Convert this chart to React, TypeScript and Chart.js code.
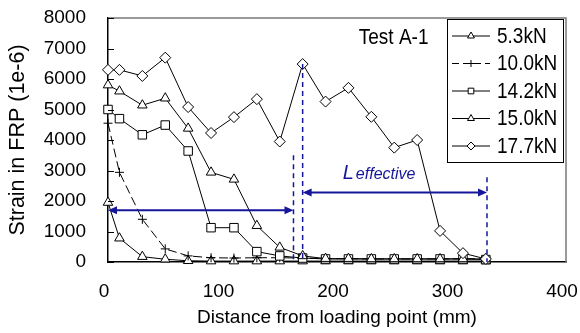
import React, { useEffect, useRef } from 'react';
import { Chart, registerables } from 'chart.js';

Chart.register(...registerables);

// ---- data ----
const distanceMm = [0, 10, 30, 50, 70, 90, 110, 130, 150, 170, 190, 210, 230, 250, 270, 290, 310, 330];
const loadLabels = ['5.3kN', '10.0kN', '14.2kN', '15.0kN', '17.7kN'];
const strain5_3 = [1950, 780, 175, 90, 40, 30, 30, 30, 30, 30, 30, 30, 30, 30, 30, 30, 30, 30];
const strain10_0 = [4550, 2940, 1400, 430, 200, 140, 130, 140, 140, 130, 110, 110, 100, 100, 100, 100, 110, 100];
const strain14_2 = [5000, 4700, 4170, 4490, 3640, 1125, 1125, 340, 200, 130, 100, 100, 100, 100, 100, 100, 100, 80];
const strain15_0 = [5800, 5600, 5140, 5370, 4380, 2940, 2710, 1190, 480, 200, 110, 110, 100, 100, 100, 100, 100, 100];
const strain17_7 = [6300, 6300, 6100, 6700, 5080, 4230, 4750, 5340, 3950, 6490, 5260, 5710, 4760, 3750, 4000, 1020, 290, 100];
const xTickValues = [0, 100, 200, 300, 400];
const yTickValues = [0, 1000, 2000, 3000, 4000, 5000, 6000, 7000, 8000];
const xTitle = 'Distance from loading point (mm)';
const yTitle = 'Strain in FRP (1e-6)';
const chartNote = 'Test A-1';
const noteAt = [219, 7330];
const effLabelMain = 'L';
const effLabelSub = 'effective';
const effLabelAt = [205, 2720];
// [fromX, toX, atStrain]
const arrowSpans = [
  [0, 162, 1700],
  [170, 331, 2280],
];
// [atX, topStrain]
const guideLines = [
  [162, 3500],
  [170, 6490],
  [331, 2780],
];

const FONT = "'Liberation Sans', Arial, sans-serif";
const BLUE = '#16169a';
const STRETCH = 1.13;

const seriesStyles = [
  { pointStyle: 'triangle', radius: 5.5, dash: [] as number[] },
  { pointStyle: 'cross', radius: 4.5, dash: [9, 4] },
  { pointStyle: 'rect', radius: 6, dash: [] as number[] },
  { pointStyle: 'triangle', radius: 5.5, dash: [] as number[] },
  { pointStyle: 'rectRot', radius: 5.5, dash: [] as number[] },
];
const seriesValues = [strain5_3, strain10_0, strain14_2, strain15_0, strain17_7];

function drawMarker(ctx: CanvasRenderingContext2D, style: string, x: number, y: number, r: number) {
  ctx.beginPath();
  if (style === 'triangle') {
    ctx.moveTo(x, y - r);
    ctx.lineTo(x + r * 0.866, y + r * 0.5);
    ctx.lineTo(x - r * 0.866, y + r * 0.5);
    ctx.closePath();
    ctx.fill();
    ctx.stroke();
  } else if (style === 'rect') {
    const s = r * 0.7071;
    ctx.rect(x - s, y - s, 2 * s, 2 * s);
    ctx.fill();
    ctx.stroke();
  } else if (style === 'rectRot') {
    ctx.moveTo(x, y - r);
    ctx.lineTo(x + r, y);
    ctx.lineTo(x, y + r);
    ctx.lineTo(x - r, y);
    ctx.closePath();
    ctx.fill();
    ctx.stroke();
  } else {
    ctx.moveTo(x - r, y);
    ctx.lineTo(x + r, y);
    ctx.moveTo(x, y - r);
    ctx.lineTo(x, y + r);
    ctx.stroke();
  }
}

function stretchedText(ctx: CanvasRenderingContext2D, text: string, x: number, y: number) {
  ctx.save();
  ctx.translate(x, y);
  ctx.scale(1, STRETCH);
  ctx.fillText(text, 0, 0);
  ctx.restore();
}

const decorPlugin = {
  id: 'decor',
  afterDatasetsDraw(chart: any) {
    const { ctx, chartArea: a, scales } = chart;
    const xs = scales.x;
    const ys = scales.y;
    ctx.save();
    // top & right frame
    ctx.strokeStyle = '#7a7a7a';
    ctx.lineWidth = 1.5;
    ctx.beginPath();
    ctx.moveTo(a.left, a.top);
    ctx.lineTo(a.right, a.top);
    ctx.lineTo(a.right, a.bottom);
    ctx.stroke();
    // inner y ticks
    ctx.strokeStyle = '#000';
    ctx.lineWidth = 1;
    yTickValues.forEach((v) => {
      const py = Math.round(ys.getPixelForValue(v)) + 0.5;
      ctx.beginPath();
      ctx.moveTo(a.left, py);
      ctx.lineTo(a.left + 6, py);
      ctx.stroke();
    });
    // guide lines
    ctx.strokeStyle = BLUE;
    ctx.lineWidth = 1.5;
    ctx.setLineDash([5, 4]);
    guideLines.forEach(([gx, gy]) => {
      const px = xs.getPixelForValue(gx);
      ctx.beginPath();
      ctx.moveTo(px, ys.getPixelForValue(gy));
      ctx.lineTo(px, ys.getPixelForValue(0));
      ctx.stroke();
    });
    ctx.setLineDash([]);
    // arrows
    ctx.lineWidth = 2;
    ctx.fillStyle = BLUE;
    const head = (tx: number, ty: number, dir: number) => {
      ctx.beginPath();
      ctx.moveTo(tx, ty);
      ctx.lineTo(tx - dir * 9, ty - 4);
      ctx.lineTo(tx - dir * 9, ty + 4);
      ctx.closePath();
      ctx.fill();
    };
    arrowSpans.forEach(([x0, x1, yv]) => {
      const p0 = xs.getPixelForValue(x0);
      const p1 = xs.getPixelForValue(x1);
      const py = ys.getPixelForValue(yv);
      ctx.beginPath();
      ctx.moveTo(p0 + 6, py);
      ctx.lineTo(p1 - 6, py);
      ctx.stroke();
      head(p0, py, -1);
      head(p1, py, 1);
    });
    // L effective
    const lx = xs.getPixelForValue(effLabelAt[0]);
    const ly = ys.getPixelForValue(effLabelAt[1]);
    ctx.textBaseline = 'alphabetic';
    ctx.textAlign = 'left';
    ctx.font = `italic 20px ${FONT}`;
    ctx.fillText(effLabelMain, lx, ly);
    const lw = ctx.measureText(effLabelMain).width;
    ctx.font = `italic 16px ${FONT}`;
    ctx.fillText(effLabelSub, lx + lw + 2, ly);
    // note
    ctx.fillStyle = '#000';
    ctx.font = `19px ${FONT}`;
    ctx.textBaseline = 'middle';
    stretchedText(ctx, chartNote, xs.getPixelForValue(noteAt[0]), ys.getPixelForValue(noteAt[1]));
    // legend
    const bx = 447, by = 19, bw = 116, bh = 143;
    ctx.fillStyle = '#fff';
    ctx.fillRect(bx, by, bw, bh);
    ctx.strokeStyle = '#000';
    ctx.lineWidth = 1;
    ctx.strokeRect(bx + 0.5, by + 0.5, bw, bh);
    loadLabels.forEach((lab, i) => {
      const st = seriesStyles[i];
      const cy = 36 + 27.5 * i;
      ctx.strokeStyle = '#000';
      ctx.lineWidth = 1;
      ctx.setLineDash(st.dash.length ? [7, 4] : []);
      ctx.beginPath();
      ctx.moveTo(452, cy);
      ctx.lineTo(490, cy);
      ctx.stroke();
      ctx.setLineDash([]);
      ctx.fillStyle = '#fff';
      drawMarker(ctx, st.pointStyle, 471, cy, st.pointStyle === 'cross' ? 3.5 : 4);
      ctx.fillStyle = '#000';
      ctx.font = `19px ${FONT}`;
      ctx.textBaseline = 'middle';
      stretchedText(ctx, lab, 497, cy + 1);
    });
    ctx.restore();
  },
};

export default function App() {
  const ref = useRef<HTMLCanvasElement>(null);
  useEffect(() => {
    if (!ref.current) return;
    const datasets = seriesValues.map((vals, i) => ({
      label: loadLabels[i],
      data: distanceMm.map((d, k) => ({ x: d, y: vals[k] })),
      showLine: true,
      borderColor: '#000',
      borderWidth: 1,
      borderDash: seriesStyles[i].dash,
      backgroundColor: '#fff',
      pointStyle: seriesStyles[i].pointStyle,
      pointRadius: seriesStyles[i].radius,
      pointBorderColor: '#000',
      pointBackgroundColor: '#fff',
      pointBorderWidth: 1,
      clip: false,
      order: 5 - i,
    }));
    const chart = new Chart(ref.current, {
      type: 'scatter',
      data: { datasets },
      plugins: [decorPlugin],
      options: {
        animation: false,
        responsive: false,
        layout: { autoPadding: false, padding: { left: 0, top: 18, right: 14, bottom: 0 } },
        plugins: { legend: { display: false }, tooltip: { enabled: false } },
        scales: {
          x: {
            type: 'linear',
            min: 0,
            max: 400,
            afterFit: (s: any) => { s.height = 71; s.paddingRight = 0; s.paddingLeft = 0; },
            afterBuildTicks: (s: any) => { s.ticks = xTickValues.map((v) => ({ value: v })); },
            grid: { display: false, drawTicks: false },
            border: { display: true, color: '#000', width: 1.5 },
            ticks: { color: '#000', font: { family: FONT, size: 19 }, padding: 18, labelOffset: -4, maxRotation: 0, callback: (v: any) => String(v) },
            title: { display: true, text: xTitle, color: '#000', font: { family: FONT, size: 19 }, padding: { top: 0, bottom: 4 } },
          },
          y: {
            type: 'linear',
            min: 0,
            max: 8000,
            afterFit: (s: any) => { s.width = 108; s.paddingTop = 0; s.paddingBottom = 0; },
            afterBuildTicks: (s: any) => { s.ticks = yTickValues.map((v) => ({ value: v })); },
            grid: { display: false, drawTicks: false },
            border: { display: true, color: '#000', width: 1.5 },
            ticks: { color: '#000', font: { family: FONT, size: 19 }, padding: 22, callback: (v: any) => String(v) },
            title: { display: true, text: yTitle, color: '#000', font: { family: FONT, size: 21.5, lineHeight: 1.1 }, padding: { top: 6, bottom: 0 } },
          },
        },
      },
    } as any);
    return () => chart.destroy();
  }, []);
  return (
    <div style={{ position: 'absolute', left: 0, top: 0, width: 580, height: 333, background: '#fff' }}>
      <canvas ref={ref} width={580} height={333} />
    </div>
  );
}
